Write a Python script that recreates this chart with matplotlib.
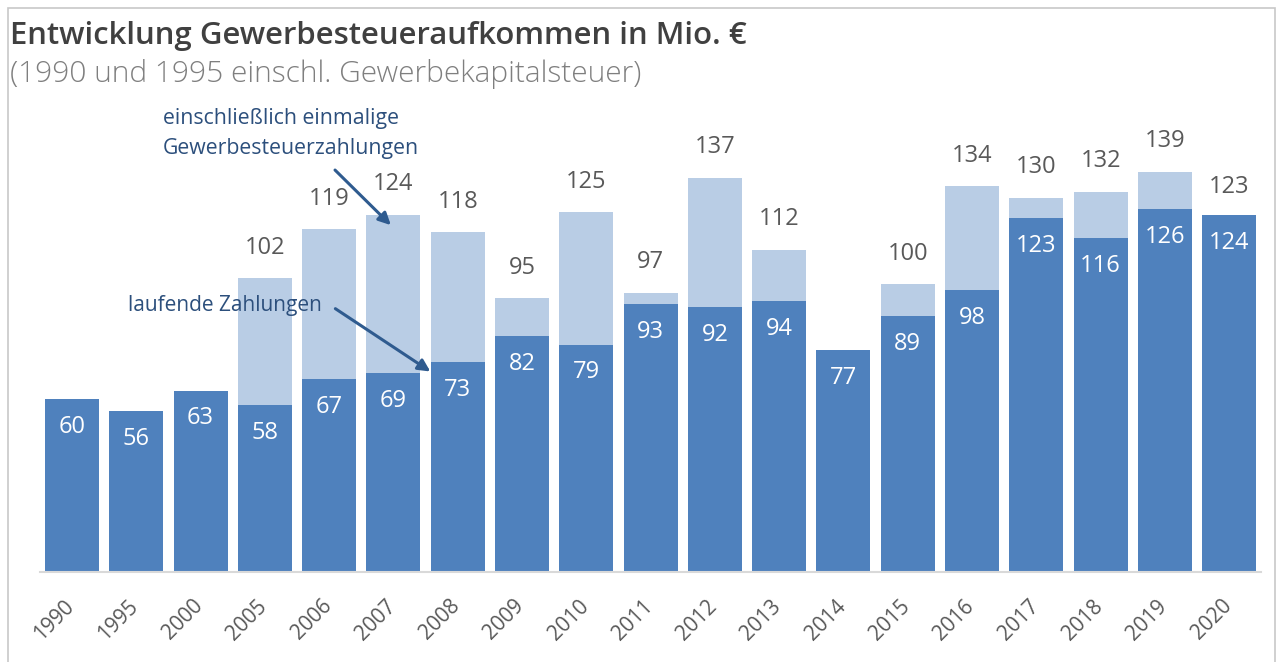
import matplotlib
matplotlib.use("Agg")
import matplotlib.pyplot as plt
import matplotlib.transforms as mtransforms
from matplotlib.patches import Rectangle

# Daten (Mio. Euro)
jahre = ['1990', '1995', '2000', '2005', '2006', '2007', '2008', '2009', '2010', '2011',
         '2012', '2013', '2014', '2015', '2016', '2017', '2018', '2019', '2020']
laufend = [60, 56, 63, 58, 67, 69, 73, 82, 79, 93, 92, 94, 77, 89, 98, 123, 116, 126, 124]
# gesamt inkl. einmalige Zahlungen (None = keine Angabe)
gesamt = [None, None, None, 102, 119, 124, 118, 95, 125, 97, 137, 112, None, 100, 134, 130, 132, 139, 123]

dunkel = '#4f81bd'
hell = '#b9cde5'
grau = '#595959'
textblau = '#2c4f7c'

plt.rcParams['font.family'] = ['Open Sans', 'DejaVu Sans']

fig = plt.figure(figsize=(12.83, 6.62), dpi=100)
ax = fig.add_axes([0.0311, 0.136, 0.952, 0.7175])

x = list(range(len(jahre)))
breite = 0.84

# helle Balken (gesamt) hinten, dunkle (laufend) vorne
for i, g in enumerate(gesamt):
    if g is not None:
        ax.bar(i, g, width=breite, color=hell, zorder=1)
ax.bar(x, laufend, width=breite, color=dunkel, zorder=2)

for i, v in enumerate(laufend):
    ax.annotate(str(v), (i, v), xytext=(0, -20), textcoords='offset points',
                ha='center', va='center', color='white', fontsize=17, zorder=3)
for i, g in enumerate(gesamt):
    if g is not None:
        ax.annotate(str(g), (i, g), xytext=(0, 22), textcoords='offset points',
                    ha='center', va='center', color=grau, fontsize=17, zorder=3)

ax.set_xlim(-0.5, len(jahre) - 0.5)
ax.set_ylim(0, 165)
ax.set_yticks([])
for s in ['top', 'right', 'left']:
    ax.spines[s].set_visible(False)
ax.spines['bottom'].set_color('#d9d9d9')
ax.spines['bottom'].set_linewidth(1.5)

ax.set_xticks(x)
ax.set_xticklabels(jahre, rotation=45, ha='right', rotation_mode='anchor',
                   color=grau, fontsize=15)
ax.tick_params(axis='x', length=0, pad=17)
offset = mtransforms.ScaledTranslation(-6 / 72, 0, fig.dpi_scale_trans)
for lab in ax.get_xticklabels():
    lab.set_transform(lab.get_transform() + offset)

# Hinweise mit Pfeilen
ax.text(1.415, 157.6, 'einschließlich einmalige', ha='left', va='center',
        color=textblau, fontsize=15.3)
ax.text(1.415, 147.2, 'Gewerbesteuerzahlungen', ha='left', va='center',
        color=textblau, fontsize=15.3)
ax.annotate('', xy=(4.99, 119.8), xytext=(4.06, 140.3),
            arrowprops=dict(arrowstyle='-|>', color='#2f5b8f', lw=2.2,
                            mutation_scale=18))
ax.text(0.87, 92.7, 'laufende Zahlungen', ha='left', va='center',
        color=textblau, fontsize=15)
ax.annotate('', xy=(5.61, 69.1), xytext=(4.06, 92.0),
            arrowprops=dict(arrowstyle='-|>', color='#2f5b8f', lw=2.2,
                            mutation_scale=18))

# Titel
fig.text(10 / 1283, 1 - 36 / 662, 'Entwicklung Gewerbesteueraufkommen in Mio. €',
         ha='left', va='center', fontsize=22.4, fontweight='semibold', color='#404040')
fig.text(10 / 1283, 1 - 74 / 662, '(1990 und 1995 einschl. Gewerbekapitalsteuer)',
         ha='left', va='center', fontsize=21.5, fontweight='light', color='#7f7f7f')

# Rahmen
fig.patches.append(Rectangle((8, -5), 1267, 659, transform=None, fill=False,
                             edgecolor='#c8c8c8', lw=1.2))

fig.savefig('out.png', dpi=100)
